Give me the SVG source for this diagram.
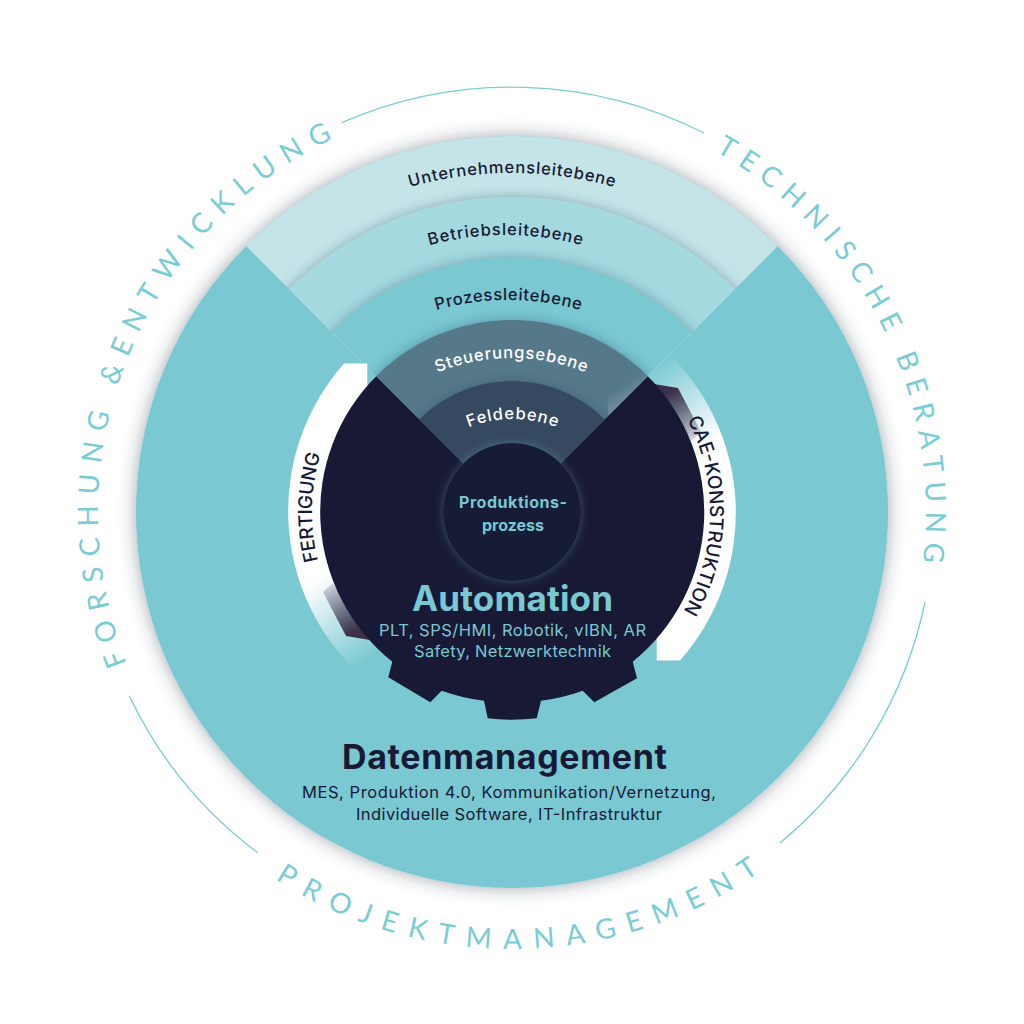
<svg xmlns="http://www.w3.org/2000/svg" xmlns:xlink="http://www.w3.org/1999/xlink" width="1024" height="1024" viewBox="0 0 1024 1024">
<style>
.in{font-family:"Inter","Noto Sans",sans-serif}
.ring{font-family:"Lato","Noto Sans",sans-serif;font-size:28px;fill:#7accd6}
.arc{font-family:"Inter","Noto Sans",sans-serif;font-size:16.5px;font-weight:500;text-anchor:middle}
.band{font-family:"Inter","Noto Sans",sans-serif;font-size:19px;font-weight:500;fill:#181a35}
.body{font-family:"Inter","Noto Sans",sans-serif;font-size:16.5px;text-anchor:middle}
.line{fill:none;stroke:#7accd6;stroke-width:1.3}
</style>
<defs>
<clipPath id="wedge"><path d="M512 512L32 32L992 32Z"/></clipPath>
<filter id="soft" x="-20%" y="-20%" width="140%" height="140%"><feDropShadow dx="0" dy="0" stdDeviation="9" flood-color="#2b3a4a" flood-opacity=".45"/></filter>
<filter id="ringShadow" x="-20%" y="-20%" width="140%" height="140%"><feDropShadow dx="0" dy="0" stdDeviation="6" flood-color="#25405a" flood-opacity=".4"/></filter>
<filter id="glow" x="-40%" y="-40%" width="180%" height="180%"><feDropShadow dx="0" dy="0" stdDeviation="5" flood-color="#79c8d2" flood-opacity=".3"/></filter>
<linearGradient id="fade" gradientUnits="userSpaceOnUse" x1="308" y1="585" x2="362" y2="665"><stop offset="0" stop-color="#fff"/><stop offset="1" stop-color="#fff" stop-opacity="0"/></linearGradient>
<linearGradient id="dk" gradientUnits="userSpaceOnUse" x1="326" y1="582" x2="352" y2="634"><stop offset="0" stop-color="#3a3049" stop-opacity="0.1"/><stop offset="1" stop-color="#3a3049"/></linearGradient>
<g id="bandShape">
<path d="M344 363.5H367.3V440L400 440L420 660L360 675A223 223 0 0 1 344 363.5Z" fill="url(#fade)"/>
<path d="M323 592L333 583L370 640L346 636Z" fill="url(#dk)"/>
</g>
<path id="pUnt" d="M324.5 223.2A375 375 0 0 1 699.5 223.2"/>
<path id="pBet" d="M360.5 273.9A290 290 0 0 1 650.5 273.9"/>
<path id="pPro" d="M378.3 334.8A260 260 0 0 1 638.3 334.8"/>
<path id="pSte" d="M385.5 403.9A196 196 0 0 1 637.5 403.9"/>
<path id="pFel" d="M434.7 447.3A121 121 0 0 1 590.3 447.3"/>
<path id="pFor" d="M126.8 663.7A414 414 0 0 1 404.9 112.1"/>
<path id="pTec" d="M715.2 151.3A414 414 0 0 1 907.9 633"/>
<path id="pPrj" d="M275.3 879.3A437 437 0 0 0 821 821"/>
<path id="pFer" d="M318 560.7A200 200 0 0 1 358.8 383.4"/>
<path id="pCae" d="M687.2 419.7A198 198 0 0 1 639.3 663.7"/>
</defs>
<rect width="1024" height="1024" fill="#fff"/>
<g id="datenmanagement">
<circle cx="512" cy="512" r="376" fill="#79c8d2" filter="url(#soft)"/>
</g>
<g id="ebenen" clip-path="url(#wedge)">
<g id="unternehmensleitebene"><circle cx="512" cy="512" r="376" fill="#c4e4e8"/></g>
<g id="betriebsleitebene"><circle cx="512" cy="512" r="315" fill="#a4d9e0" filter="url(#ringShadow)"/></g>
<g id="prozessleitebene"><circle cx="512" cy="512" r="254" fill="#79c8d2" filter="url(#ringShadow)"/></g>
<g id="steuerungsebene"><circle cx="512" cy="512" r="192" fill="#56798a" filter="url(#ringShadow)"/></g>
<g id="feldebene"><circle cx="512" cy="512" r="131" fill="#344860" filter="url(#ringShadow)"/></g>
</g>
<g id="fertigung"><use xlink:href="#bandShape" href="#bandShape"/></g>
<g id="cae-konstruktion"><use xlink:href="#bandShape" href="#bandShape" transform="rotate(180 512 512)"/></g>
<g id="automation">
<path d="M512 512L647.8 376.2A192 192 0 0 1 632.7 661.7L637 678.3L594.3 702.3L582.7 690.7A192 192 0 0 1 541 700.7L536.7 718.3A207 207 0 0 1 487.7 718.3L484 700.7A192 192 0 0 1 441.7 690.7L430.3 702.3L388.3 677.3L392.3 661.7A192 192 0 0 1 376.2 376.2Z" fill="#181a35"/>
</g>
<g id="produktionsprozess"><circle cx="512" cy="512" r="69" fill="#181a35" filter="url(#glow)"/></g>
<g id="labels">
<text class="arc" fill="#181a35"><textPath href="#pUnt" startOffset="50%" textLength="207">Unternehmensleitebene</textPath></text>
<text class="arc" fill="#181a35"><textPath href="#pBet" startOffset="50%" textLength="154">Betriebsleitebene</textPath></text>
<text class="arc" fill="#181a35"><textPath href="#pPro" startOffset="50%" textLength="146">Prozessleitebene</textPath></text>
<text class="arc" fill="#fff"><textPath href="#pSte" startOffset="50%" textLength="152">Steuerungsebene</textPath></text>
<text class="arc" fill="#fff"><textPath href="#pFel" startOffset="50%" textLength="90">Feldebene</textPath></text>
<text class="band"><textPath href="#pFer" textLength="108">FERTIGUNG</textPath></text>
<text class="band"><textPath href="#pCae" textLength="200">CAE-KONSTRUKTION</textPath></text>
<text class="in" x="513" y="508" font-size="16" font-weight="700" text-anchor="middle" fill="#79c8d2" textLength="108">Produktions-</text>
<text class="in" x="513" y="530.5" font-size="16" font-weight="700" text-anchor="middle" fill="#79c8d2" textLength="62">prozess</text>
<text class="in" x="512.5" y="611" font-size="35" font-weight="700" text-anchor="middle" fill="#79c8d2" textLength="201">Automation</text>
<text class="body" x="512.5" y="636" fill="#79c8d2" textLength="267">PLT, SPS/HMI, Robotik, vIBN, AR</text>
<text class="body" x="512.5" y="657" fill="#79c8d2" textLength="197">Safety, Netzwerktechnik</text>
<text class="in" x="504.5" y="769" font-size="34" font-weight="700" text-anchor="middle" fill="#181a35" textLength="325">Datenmanagement</text>
<text class="body" x="509" y="798" fill="#181a35" textLength="414">MES, Produktion 4.0, Kommunikation/Vernetzung,</text>
<text class="body" x="509" y="820" fill="#181a35" textLength="306">Individuelle Software, IT-Infrastruktur</text>
<text class="ring"><textPath href="#pFor" textLength="620">FORSCHUNG &amp;ENTWICKLUNG</textPath></text>
<text class="ring"><textPath href="#pTec" textLength="488">TECHNISCHE BERATUNG</textPath></text>
<text class="ring"><textPath href="#pPrj" textLength="513">PROJEKTMANAGEMENT</textPath></text>
</g>
<g id="connectors">
<path class="line" d="M341.7 122.7A425 425 0 0 1 704 133"/>
<path class="line" d="M129.3 696A425 425 0 0 0 258 853"/>
<path class="line" d="M925 602A425 425 0 0 1 780 843"/>
</g>
</svg>
